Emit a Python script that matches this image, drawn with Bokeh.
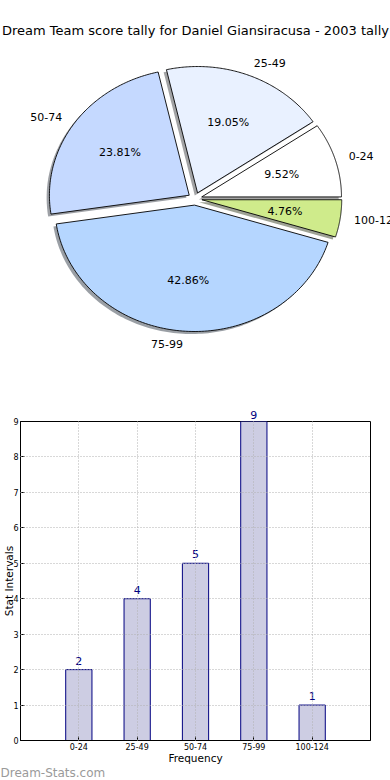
import numpy as np
from bokeh.plotting import figure
from bokeh.models import Range1d, ColumnDataSource, Label, FixedTicker, LinearAxis, Title
from bokeh.embed import file_html
from bokeh.resources import INLINE
from bokeh.core.properties import value

# ---------------- data ----------------
title_text = "Dream Team score tally for Daniel Giansiracusa - 2003 tally"
intervals = ["0-24", "25-49", "50-74", "75-99", "100-124"]
counts = [2, 4, 5, 9, 1]
slice_colors = ["#ffffff", "#e9f1ff", "#c5d9ff", "#b5d6ff", "#cfeb8b"]
y_ticks = [0, 1, 2, 3, 4, 5, 6, 7, 8, 9]
x_label = "Frequency"
y_label = "Stat Intervals"
watermark = "Dream-Stats.com"

FONT = "DejaVu Sans"

# ---------------- pie ----------------
explode = 0.05
shadow_off = 0.02
fracs = np.array(counts, dtype=float) / sum(counts)
ends = np.cumsum(fracs) * 2 * np.pi
starts = ends - fracs * 2 * np.pi
mids = (starts + ends) / 2

xs, ys, sxs, sys_, shadow_cols = [], [], [], [], []
for s, e, m, col in zip(starts, ends, mids, slice_colors):
    cx, cy = explode * np.cos(m), explode * np.sin(m)
    th = np.linspace(s, e, 120)
    px = np.concatenate([[cx], cx + np.cos(th), [cx]])
    py = np.concatenate([[cy], cy + np.sin(th), [cy]])
    xs.append(px.tolist())
    ys.append(py.tolist())
    sxs.append((px - shadow_off).tolist())
    sys_.append((py - shadow_off).tolist())
    r, g, b = int(col[1:3], 16), int(col[3:5], 16), int(col[5:7], 16)
    shadow_cols.append("#%02x%02x%02x" % (int(r * 0.3), int(g * 0.3), int(b * 0.3)))

lab_x, lab_y, lab_align, pct_x, pct_y, pct_text = [], [], [], [], [], []
for m, f in zip(mids, fracs):
    cx, cy = explode * np.cos(m), explode * np.sin(m)
    lx, ly = cx + 1.1 * np.cos(m), cy + 1.1 * np.sin(m)
    lab_x.append(lx)
    lab_y.append(ly)
    lab_align.append("left" if lx > 0 else "right")
    pct_x.append(cx + 0.6 * np.cos(m))
    pct_y.append(cy + 0.6 * np.sin(m))
    pct_text.append("%.2f%%" % (f * 100))

W, H1 = 390, 390
sx_unit, sy_unit = 139.8, 126.4   # px per unit radius
cx_px, cy_px = 194.5, 198.3
p1 = figure(width=W, height=H1, output_backend="svg", toolbar_location=None,
            x_range=Range1d(-cx_px / sx_unit, (W - cx_px) / sx_unit),
            y_range=Range1d(-(H1 - cy_px) / sy_unit, cy_px / sy_unit),
            x_axis_location=None, y_axis_location=None, min_border=0)
p1.grid.visible = False
p1.outline_line_color = None

p1.patches(sxs, sys_, fill_color=shadow_cols, fill_alpha=0.5, line_color=None)
p1.patches(xs, ys, fill_color=slice_colors, line_color="black", line_width=0.9)

lab_src = ColumnDataSource(dict(x=lab_x, y=lab_y, t=intervals, a=lab_align))
p1.text("x", "y", text="t", text_align="a", text_baseline="middle", source=lab_src,
        text_font=value(FONT), text_font_size="11px", text_color="black")
pct_src = ColumnDataSource(dict(x=pct_x, y=pct_y, t=pct_text))
p1.text("x", "y", text="t", text_align="center", text_baseline="middle", source=pct_src,
        text_font=value(FONT), text_font_size="11px", text_color="black")

p1.add_layout(Label(x=(195 - cx_px) / sx_unit, y=(cy_px - 30) / sy_unit, text=title_text,
                    text_align="center", text_baseline="middle", text_font=FONT,
                    text_font_size="13px", text_color="black"))

# ---------------- bars ----------------
H2 = 390
xpos = list(range(len(intervals)))
y_max = y_ticks[-1]
p2 = figure(width=W, height=H2, output_backend="svg", toolbar_location=None,
            x_range=Range1d(-1, len(intervals)), y_range=Range1d(y_ticks[0], y_max),
            min_border_top=31, min_border_bottom=40, min_border_right=20, min_border_left=19)
p2.outline_line_color = "black"
p2.outline_line_width = 1
xb = p2.below[0]
yl = p2.left[0]

bar_src = ColumnDataSource(dict(x=xpos, top=counts, t=[str(c) for c in counts]))
p2.vbar(x="x", top="top", width=0.45, source=bar_src, fill_color="#cdcde3",
        line_color="#000080", line_width=1)
# value labels for bars below the top of the frame
inner = [i for i, c in enumerate(counts) if c < y_max]
in_src = ColumnDataSource(dict(x=[xpos[i] for i in inner], top=[counts[i] for i in inner],
                               t=[str(counts[i]) for i in inner]))
p2.text(x="x", y="top", text="t", source=in_src, text_align="center", text_baseline="bottom",
        y_offset=-5, text_font=value(FONT), text_font_size="11px", text_color="#000080")
# value labels for bars reaching the top of the frame, shown just above it
outer = [i for i, c in enumerate(counts) if c >= y_max]
top_axis = LinearAxis(ticker=FixedTicker(ticks=[xpos[i] for i in outer]),
                      major_label_overrides={xpos[i]: str(counts[i]) for i in outer},
                      axis_line_color=None, major_tick_line_color=None,
                      minor_tick_line_color=None, major_tick_in=0, major_tick_out=0,
                      major_label_standoff=3,
                      major_label_text_font=FONT, major_label_text_font_size="11px",
                      major_label_text_color="#000080")
p2.add_layout(top_axis, "above")

xb.ticker = FixedTicker(ticks=xpos)
xb.major_label_overrides = {i: lab for i, lab in zip(xpos, intervals)}
yl.ticker = FixedTicker(ticks=y_ticks)
for ax in (xb, yl):
    ax.major_tick_in = 4
    ax.major_tick_out = 0
    ax.minor_tick_in = 0
    ax.minor_tick_out = 0
    ax.axis_line_color = "black"
    ax.major_tick_line_color = "black"
    ax.major_label_text_font = FONT
    ax.major_label_text_font_size = "8px"
    ax.major_label_text_color = "black"
    ax.axis_label_text_font = FONT
    ax.axis_label_text_font_size = "10.5px"
    ax.axis_label_text_font_style = "normal"
    ax.axis_label_text_color = "black"
xb.axis_label = x_label
yl.axis_label = y_label
yl.axis_label_standoff = -5
yl.major_label_standoff = 2
xb.major_label_standoff = 2
xb.axis_label_standoff = -1

p2.xgrid.ticker = FixedTicker(ticks=xpos)
p2.ygrid.ticker = FixedTicker(ticks=y_ticks)
p2.grid.grid_line_color = "#b0b0b0"
p2.grid.grid_line_dash = "1 2"
p2.grid.grid_line_width = 1
p2.grid.level = "overlay"

p2.add_layout(Title(text=watermark, align="left", offset=-20, standoff=-6,
                    text_font=FONT, text_font_size="12px", text_font_style="normal",
                    text_color="#9a9a9a"), "below")

open("out.html", "w").write(file_html([p1, p2], INLINE))
